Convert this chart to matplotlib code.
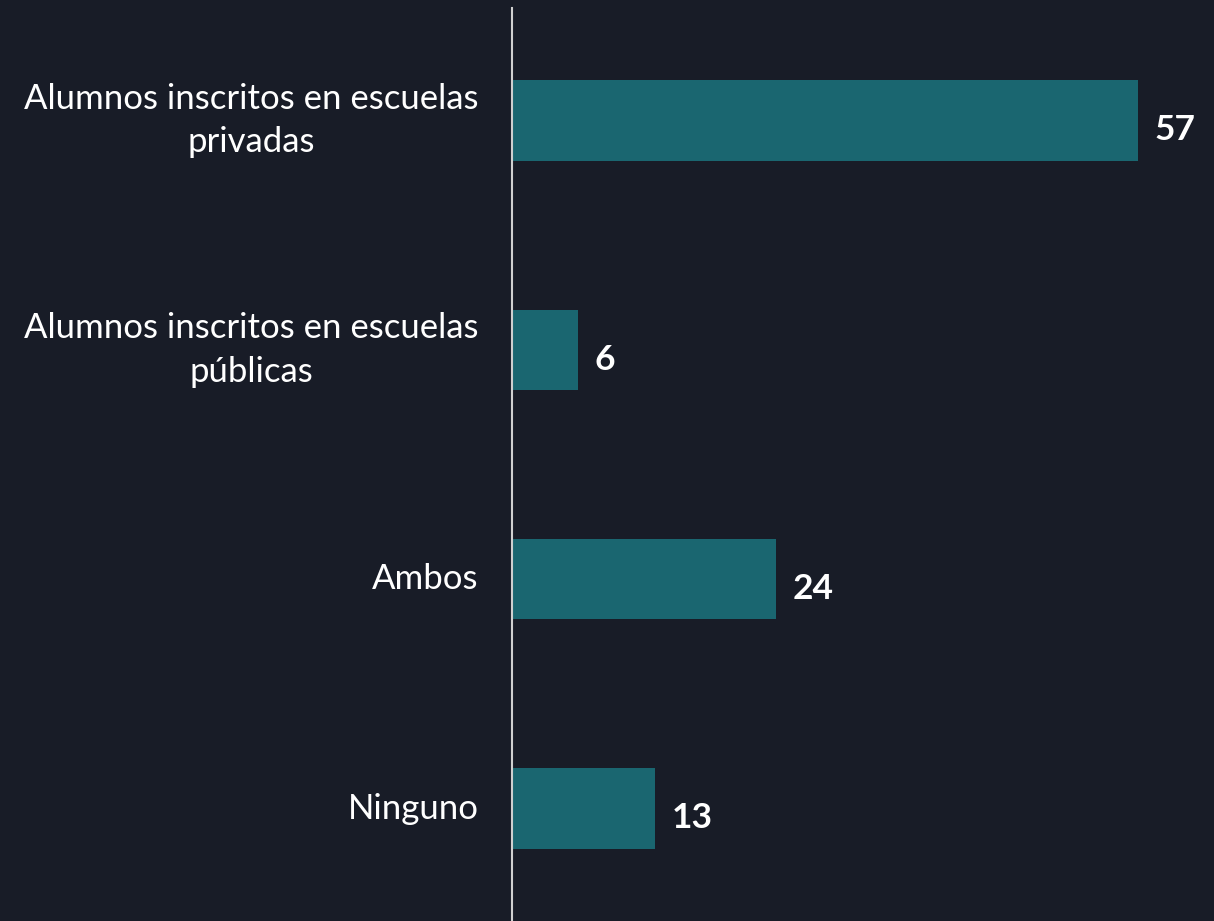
import matplotlib
matplotlib.use("Agg")
import matplotlib.pyplot as plt

categories = ["Alumnos inscritos en escuelas\nprivadas",
              "Alumnos inscritos en escuelas\npúblicas",
              "Ambos",
              "Ninguno"]
values = [57, 6, 24, 13]

BG = "#181c27"
BAR = "#1a6670"

plt.rcParams['font.family'] = ['Lato', 'DejaVu Sans']

fig = plt.figure(figsize=(12.14, 9.21), dpi=100, facecolor=BG)
ax = fig.add_axes([512/1214, 0, 702/1214, 913/921], facecolor=BG)

y = list(range(len(categories)))
ax.barh(y, values, height=0.35, color=BAR)
ax.set_xlim(0, 702/10.98)
ax.set_ylim(3.49, -0.49)

ax.set_yticks(y)
ax.set_yticklabels(categories, fontsize=25, color="white")
for lab in ax.get_yticklabels():
    lab.set_multialignment('center')
    lab.set_linespacing(1.45)
    lab.set_verticalalignment('center')
ax.tick_params(axis='y', length=0, pad=24)
ax.set_xticks([])

for s in ['top', 'right', 'bottom']:
    ax.spines[s].set_visible(False)
ax.spines['left'].set_color('#d0d0d0')
ax.spines['left'].set_linewidth(1.5)

for yi, v in zip(y, values):
    ax.annotate(str(v), xy=(v, yi), xytext=(12, -7), textcoords='offset points',
                ha='left', va='center', fontsize=25.5, fontweight='bold', color='white')

fig.savefig("out.png", dpi=100, facecolor=BG)
